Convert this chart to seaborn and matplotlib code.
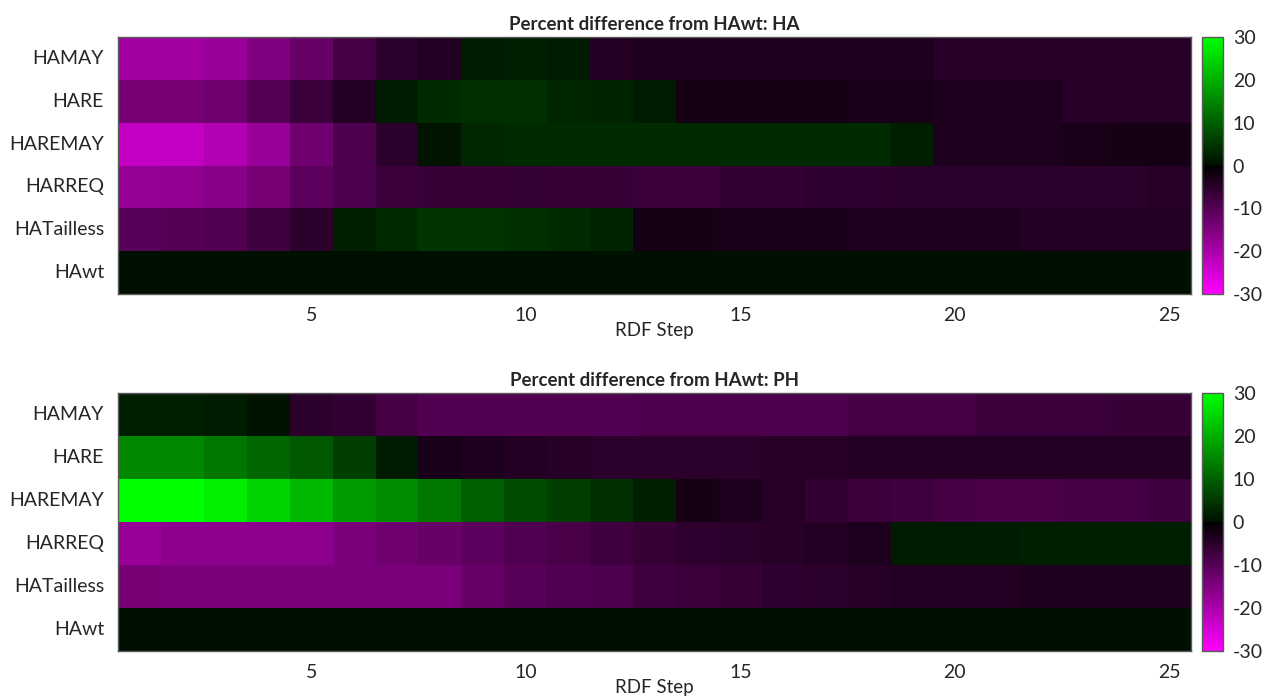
import numpy as np
import pandas as pd
import matplotlib
matplotlib.use("Agg")
import matplotlib.pyplot as plt
from matplotlib.colors import LinearSegmentedColormap
import seaborn as sns

# ---------------- data ----------------
rows = ["HAMAY", "HARE", "HAREMAY", "HARREQ", "HATailless", "HAwt"]
steps = list(range(1, 26))
x_tick_steps = [5, 10, 15, 20, 25]
cbar_ticks = [30, 20, 10, 0, -10, -20, -30]

ha_hamay = [-19, -19, -18, -15, -12, -8, -5, -4, 1.5, 2, 1.5, -4, -3.5,
            -3.5, -3.5, -3.5, -3.5, -3.5, -3.5, -4.5, -4.5, -4.5, -4.5, -4.5, -4.5]
ha_hare = [-14, -14, -13, -10, -7, -4, 1.5, 3.5, 4, 4, 3, 2.5, 1.5,
           -2.5, -2.5, -2.5, -2.5, -3, -3, -3.5, -3.5, -3.5, -4.5, -4.5, -4.5]
ha_haremay = [-23, -23, -21, -18, -13, -9, -5, 0.5, 3, 3.5, 3.5, 3.5, 3.5,
              3.5, 3.5, 3.5, 3.5, 3.5, 2, -3.5, -3.5, -3.5, -3, -2.5, -2.5]
ha_harreq = [-17.5, -17, -16, -14, -11, -9, -7, -6.5, -6.5, -6.3, -6.5, -6.5, -7,
             -7, -6, -6, -5.5, -5.5, -5, -5, -5, -5, -5, -5, -4.5]
ha_hatailless = [-10.5, -10, -9.5, -7.5, -5, 2, 3.5, 4.5, 4.5, 4, 3.5, 2.5, -2.5,
                 -2.5, -3, -3, -3, -3.5, -3.5, -3.5, -3.5, -4, -4, -4, -4]
ha_hawt = [0] * 25

ph_hamay = [2, 2, 1.5, 0.3, -5, -6, -8, -9.5, -9.5, -9.5, -9.5, -9.5, -9,
            -9, -9, -9, -9, -8, -8, -8, -7, -7, -7, -6.5, -6.5]
ph_hare = [15, 15, 13, 11, 9, 6, 1.5, -3, -3.5, -4, -4.5, -5, -5,
           -5, -5, -4.5, -4.5, -4, -4, -4, -4, -4, -4, -4, -4]
ph_haremay = [30, 30, 28, 24.5, 21, 17.5, 15.5, 13, 10, 7.5, 6, 4, 2,
              -2.5, -3.5, -4.5, -6, -7, -7.5, -8, -8.5, -8.5, -8, -8, -7.5]
ph_harreq = [-18, -16.5, -16.5, -16.5, -16.5, -14.5, -13, -12, -11, -9.5, -8.5, -7.5, -6.5,
             -5.5, -5, -4.5, -4, -3.5, 1.5, 1.5, 1.5, 2, 2, 2, 2]
ph_hatailless = [-14, -14.5, -14.5, -14.5, -14.5, -14.5, -14.5, -14.5, -12, -10.5, -9.5, -9, -7.5,
                 -7, -6.5, -5.5, -5, -4.5, -4, -4, -4, -3.5, -3.5, -3.5, -3.5]
ph_hawt = [0] * 25

titles = ["Percent difference from HAwt: HA", "Percent difference from HAwt: PH"]
xlabel = "RDF Step"

df_ha = pd.DataFrame([ha_hamay, ha_hare, ha_haremay, ha_harreq, ha_hatailless, ha_hawt],
                     index=rows, columns=steps)
df_ph = pd.DataFrame([ph_hamay, ph_hare, ph_haremay, ph_harreq, ph_hatailless, ph_hawt],
                     index=rows, columns=steps)

# ---------------- style ----------------
sns.set_style("white")
plt.rcParams["font.family"] = ["Lato", "DejaVu Sans"]
plt.rcParams["axes.unicode_minus"] = False

cdict = {
    "red":   [(0.0, 1.0, 1.0), (0.5, 0.0, 0.0), (1.0, 0.0, 0.0)],
    "green": [(0.0, 0.0, 0.0), (0.5, 0.0, 0.06), (1.0, 1.0, 1.0)],
    "blue":  [(0.0, 1.0, 1.0), (0.5, 0.0, 0.0), (1.0, 0.0, 0.0)],
}
cmap = LinearSegmentedColormap("magblkgrn", cdict, N=256)

W, H = 1263, 697
fig = plt.figure(figsize=(W / 100, H / 100), dpi=100)

panels = [
    (df_ha, 37, 294, titles[0]),
    (df_ph, 393, 651, titles[1]),
]
ax_left, ax_right = 118, 1191
cb_left, cb_right = 1202, 1223
edge_col = "#5a5a5a"

for df, top, bottom, title in panels:
    ax = fig.add_axes([ax_left / W, 1 - bottom / H, (ax_right - ax_left) / W, (bottom - top) / H])
    cax = fig.add_axes([cb_left / W, 1 - bottom / H, (cb_right - cb_left) / W, (bottom - top) / H])
    sns.heatmap(df, ax=ax, cbar_ax=cax, cmap=cmap, vmin=-30, vmax=30, linewidths=0)
    ax.set_xticks([s - 0.5 for s in x_tick_steps])
    ax.set_xticklabels([str(s) for s in x_tick_steps], rotation=0, fontsize=14)
    ax.set_yticks(np.arange(len(rows)) + 0.5)
    ax.set_yticklabels(rows, rotation=0, fontsize=14)
    ax.tick_params(axis="both", direction="in", length=7, width=0.8, color="#555555",
                   top=True, right=True, labeltop=False, labelright=False)
    ax.tick_params(axis="x", pad=9)
    ax.tick_params(axis="y", pad=10)
    for sp in ax.spines.values():
        sp.set_visible(True)
        sp.set_color(edge_col)
        sp.set_linewidth(1.0)
    ax.set_xlabel(xlabel, fontsize=13.5, labelpad=-1)
    ax.set_ylabel("")
    ax.set_title(title, fontsize=13.5, fontweight="bold", pad=5)

    cb = ax.collections[0].colorbar
    cb.set_ticks(cbar_ticks)
    cb.set_ticklabels([str(t) for t in cbar_ticks])
    cax.tick_params(direction="in", length=4, width=0.8, color="#555555", labelsize=14, pad=7)
    cb.outline.set_edgecolor(edge_col)
    cb.outline.set_linewidth(1.0)

fig.savefig("out.png", dpi=100)
